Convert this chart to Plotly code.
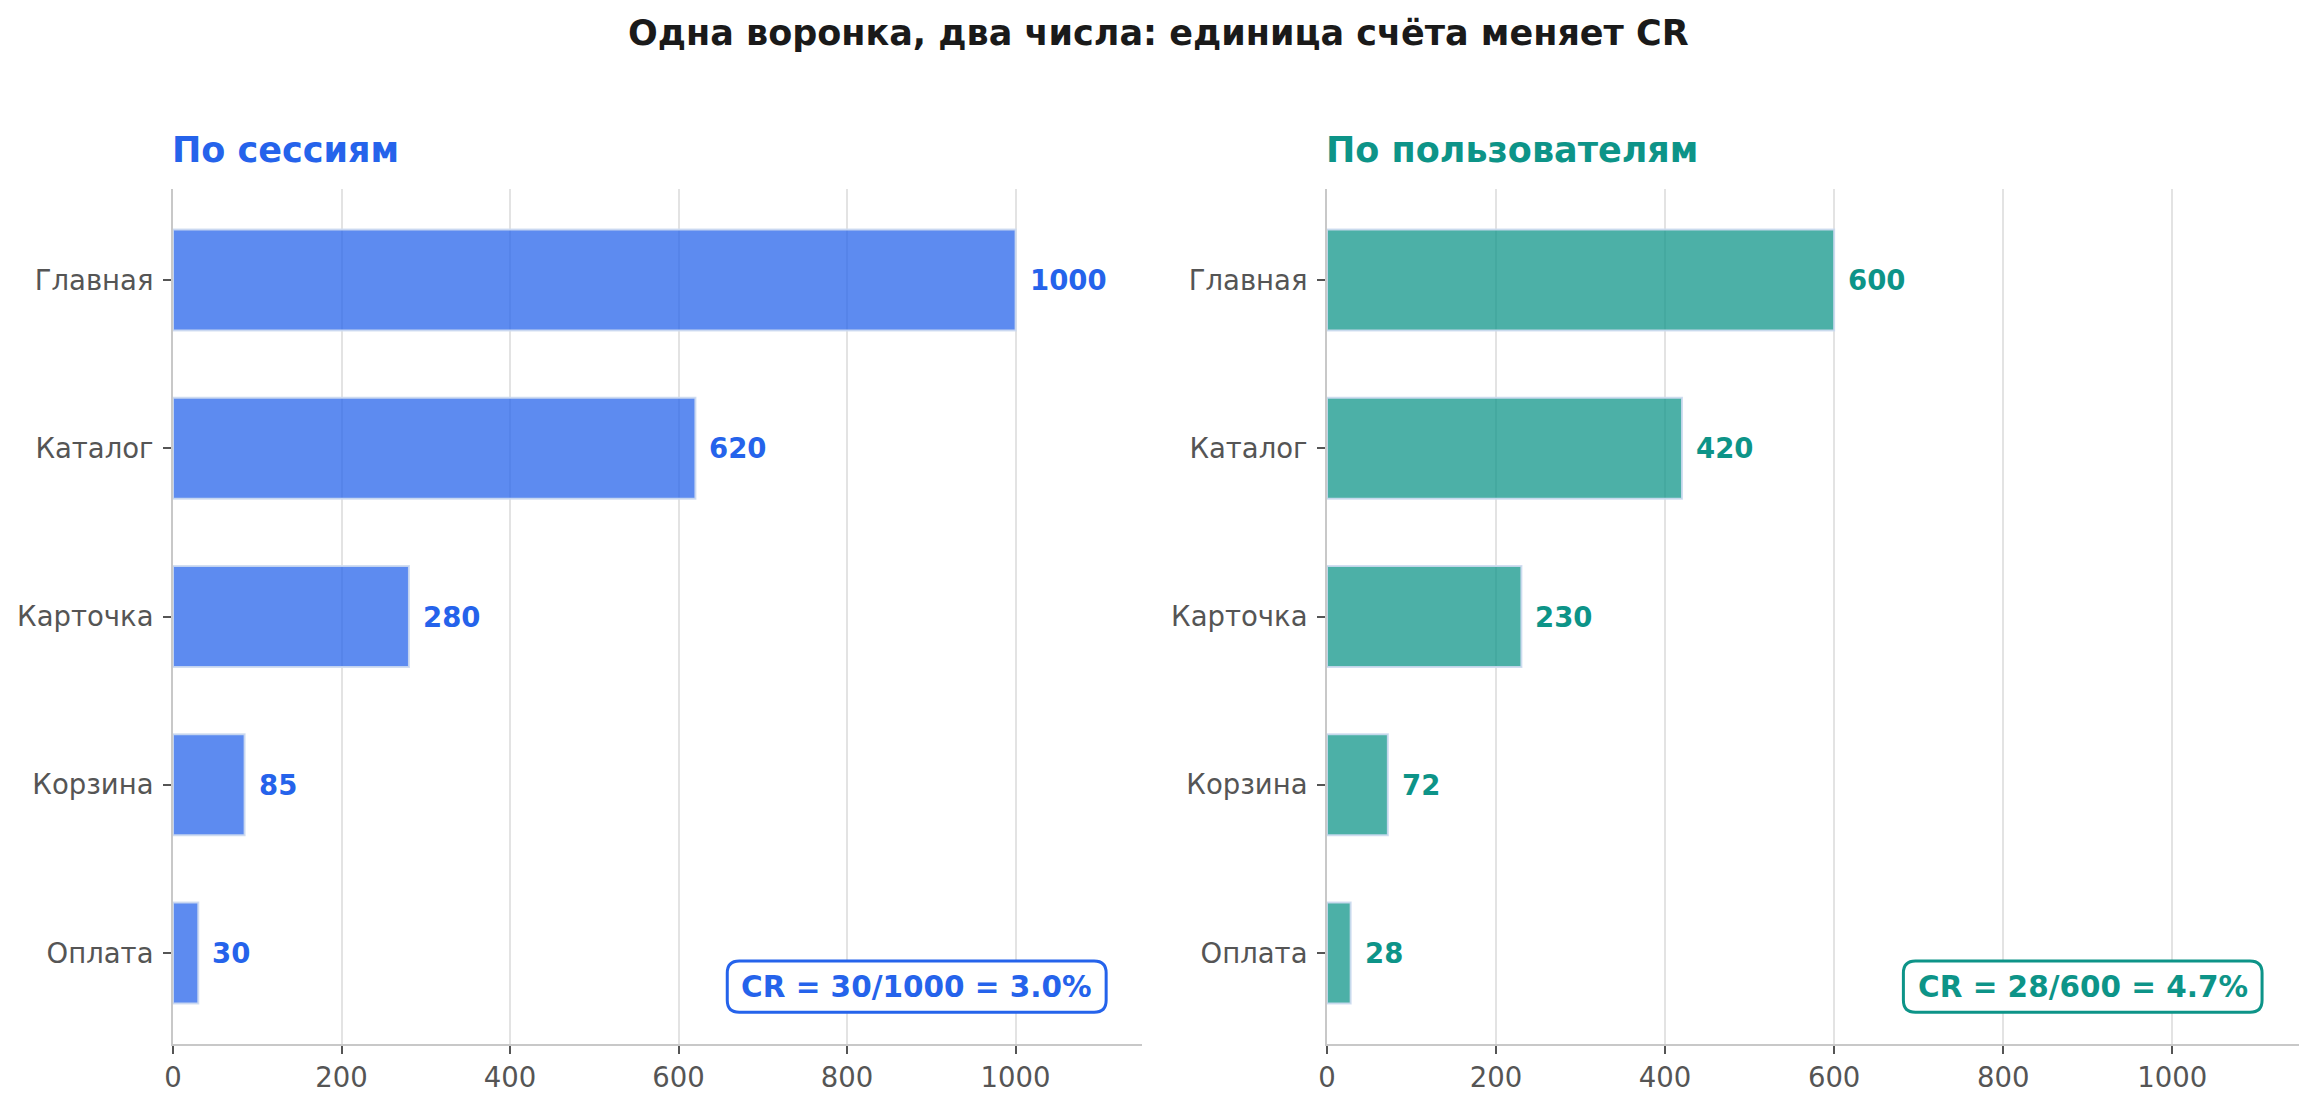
import plotly.graph_objects as go

stages = ["Главная", "Каталог", "Карточка", "Корзина", "Оплата"]
sessions = [1000, 620, 280, 85, 30]
users = [600, 420, 230, 72, 28]
x_ticks = [0, 200, 400, 600, 800, 1000]

title_text = "Одна воронка, два числа: единица счёта меняет CR"
left_title = "По сессиям"
right_title = "По пользователям"
cr_left = f"CR = {sessions[-1]}/{sessions[0]} = {sessions[-1]/sessions[0]*100:.1f}%"
cr_right = f"CR = {users[-1]}/{users[0]} = {users[-1]/users[0]*100:.1f}%"

BLUE = "#2563EB"
TEAL = "#0D9488"
BLUE_FILL = "rgba(37,99,235,0.74)"
TEAL_FILL = "rgba(13,148,136,0.74)"
FONT = "DejaVu Sans"

W, H = 2316, 1108
xd1 = [173 / W, 1142 / W]
xd2 = [1327 / W, 2299 / W]
yd = [(H - 1044) / H, (H - 189) / H]

fig = go.Figure()
annotations = []

panels = [
    (sessions, BLUE_FILL, BLUE, "x", "y", cr_left, [0.572, 0.963]),
    (users, TEAL_FILL, TEAL, "x2", "y2", cr_right, [0.593, 0.962]),
]

shapes = []
for vals, fill, col, xa, ya, cr, bx in panels:
    fig.add_trace(go.Bar(
        y=stages, x=vals, orientation="h", width=0.6,
        marker=dict(color=fill, line=dict(color="rgba(205,218,240,0.9)", width=2)),
        xaxis=xa, yaxis=ya, showlegend=False, hoverinfo="skip",
    ))
    for s, v in zip(stages, vals):
        annotations.append(dict(
            text=f"<b>{v}</b>", x=v, y=s, xref=xa, yref=ya, xanchor="left",
            yanchor="middle", xshift=12, showarrow=False,
            font=dict(size=27.5, color=col, family=FONT)))
    # rounded box for CR
    x0, x1 = bx
    y0, y1 = 0.037, 0.097
    rx, ry = 12 / 969, 12 / 855
    path = (f"M {x0+rx},{y0} L {x1-rx},{y0} Q {x1},{y0} {x1},{y0+ry} "
            f"L {x1},{y1-ry} Q {x1},{y1} {x1-rx},{y1} L {x0+rx},{y1} "
            f"Q {x0},{y1} {x0},{y1-ry} L {x0},{y0+ry} Q {x0},{y0} {x0+rx},{y0} Z")
    shapes.append(dict(type="path", path=path, xref=f"{xa} domain", yref=f"{ya} domain",
                       line=dict(color=col, width=3), fillcolor="white", layer="above"))
    annotations.append(dict(
        text=f"<b>{cr}</b>", x=(x0 + x1) / 2, y=(y0 + y1) / 2,
        xref=f"{xa} domain", yref=f"{ya} domain", xanchor="center", yanchor="middle",
        showarrow=False, font=dict(size=29.5, color=col, family=FONT)))

axis_common = dict(
    range=[0, 1150], tickvals=x_ticks, ticks="outside", ticklen=8, tickwidth=1.5,
    tickcolor="#555555", tickfont=dict(size=27.5, color="#555555", family=FONT),
    showgrid=True, gridcolor="#e3e3e3", gridwidth=1.5, zeroline=False,
    showline=True, linecolor="#c8c8c8", linewidth=2, automargin=False,
)
yaxis_common = dict(
    range=[4.54, -0.54], ticks="outside", ticklen=8, tickwidth=1.5, tickcolor="#555555",
    tickfont=dict(size=27.5, color="#555555", family=FONT), showgrid=False,
    showline=True, linecolor="#c8c8c8", linewidth=2, zeroline=False,
    categoryorder="array", categoryarray=stages, domain=yd, automargin=False,
    ticklabelstandoff=4,
)

annotations += [
    dict(text=f"<b>{title_text}</b>", x=0.5, y=1 - 33 / H, xref="paper", yref="paper",
         xanchor="center", yanchor="middle", showarrow=False,
         font=dict(size=35, color="#1a1a1a", family=FONT)),
    dict(text=f"<b>{left_title}</b>", x=0, y=1 - 150 / H, xref="x domain", yref="paper",
         xanchor="left", yanchor="middle", showarrow=False, xshift=-3,
         font=dict(size=35, color=BLUE, family=FONT)),
    dict(text=f"<b>{right_title}</b>", x=0, y=1 - 150 / H, xref="x2 domain", yref="paper",
         xanchor="left", yanchor="middle", showarrow=False, xshift=-3,
         font=dict(size=35, color=TEAL, family=FONT)),
]

fig.update_layout(
    width=W, height=H, margin=dict(l=0, r=0, t=0, b=0),
    paper_bgcolor="white", plot_bgcolor="white",
    font=dict(family=FONT, color="#333333"),
    xaxis=dict(axis_common, domain=xd1, anchor="y"),
    xaxis2=dict(axis_common, domain=xd2, anchor="y2"),
    yaxis=dict(yaxis_common, anchor="x"),
    yaxis2=dict(yaxis_common, anchor="x2"),
    annotations=annotations,
    shapes=shapes,
)

fig.write_html("out.html")
